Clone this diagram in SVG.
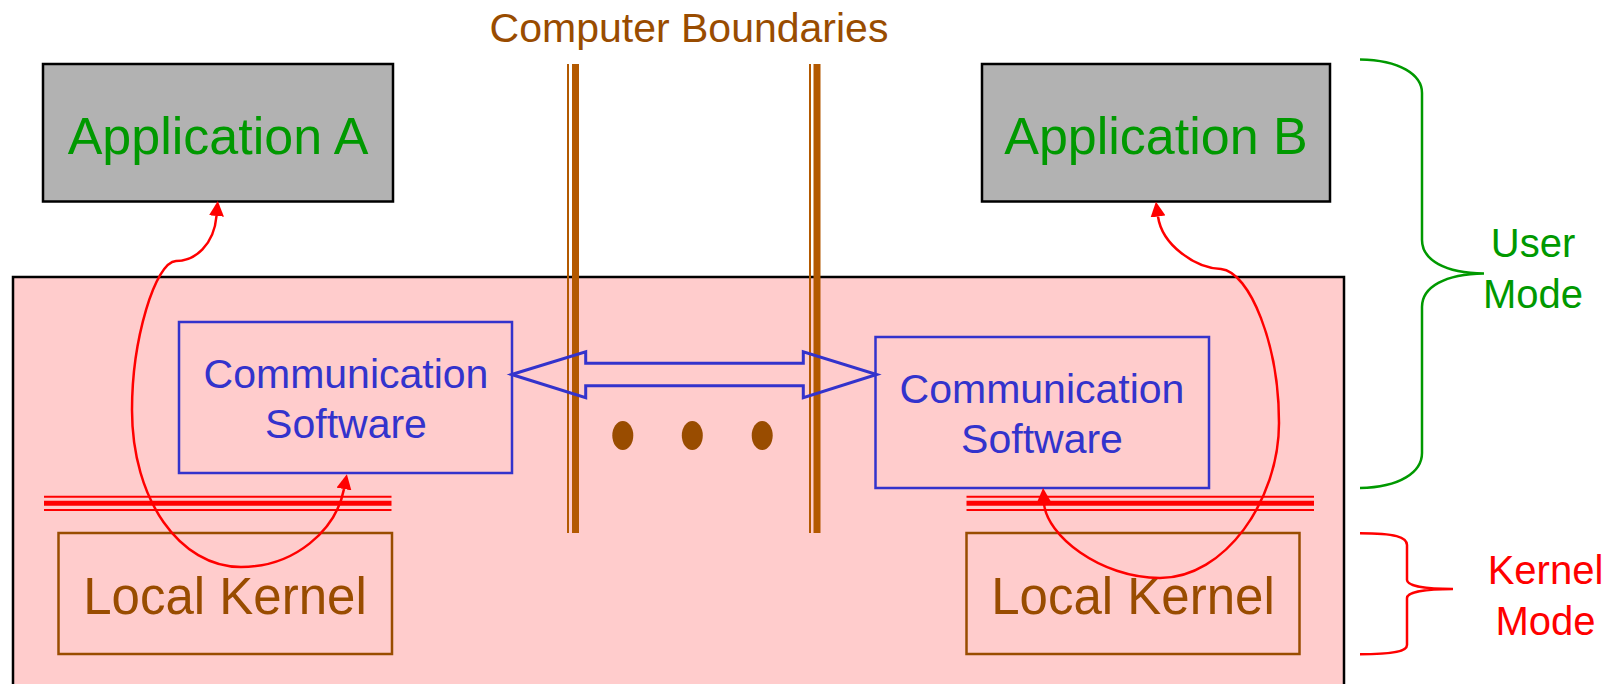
<svg xmlns="http://www.w3.org/2000/svg" width="1618" height="684" viewBox="0 0 1618 684">
  <style>
    text { font-family: "Liberation Sans", Arial, sans-serif; text-anchor: middle; }
    .app { fill: #B2B2B2; stroke: #000; stroke-width: 2.5; }
    .app-label { fill: #009900; font-size: 52px; }
    .comm { fill: none; stroke: #3333CC; stroke-width: 2.5; }
    .comm-label { fill: #3333CC; font-size: 41px; }
    .kernel { fill: none; stroke: #994C00; stroke-width: 2.5; }
    .kernel-label { fill: #994C00; font-size: 51px; }
    .boundary-thin { stroke: #B35900; stroke-width: 2; }
    .boundary-thick { stroke: #B35900; stroke-width: 7; }
    .sep-thin { stroke: #FF0000; stroke-width: 2; }
    .sep-thick { stroke: #FF0000; stroke-width: 5; }
    .flow { fill: none; stroke: #FF0000; stroke-width: 2.5; marker-start: url(#redHead); marker-end: url(#redHead); }
    .dot { fill: #994C00; }
  </style>
  <defs>
    <marker id="redHead" viewBox="0 0 10 10" refX="0" refY="5" markerWidth="15" markerHeight="15" markerUnits="userSpaceOnUse" orient="auto-start-reverse">
      <path d="M0,0 L10,5 L0,10 z" fill="#FF0000"/>
    </marker>
  </defs>

  <rect width="1618" height="684" fill="#FFFFFF"/>

  <!-- shared network / system area -->
  <g id="system-area">
    <rect x="13" y="277" width="1331" height="430" fill="#FFCCCC" stroke="#000" stroke-width="2.5"/>
  </g>

  <!-- computer boundaries -->
  <g id="boundaries">
    <text x="689" y="42" fill="#994C00" font-size="41">Computer Boundaries</text>
    <line class="boundary-thin" x1="568" y1="64" x2="568" y2="533"/>
    <line class="boundary-thick" x1="575.5" y1="64" x2="575.5" y2="533"/>
    <line class="boundary-thin" x1="810" y1="64" x2="810" y2="533"/>
    <line class="boundary-thick" x1="817" y1="64" x2="817" y2="533"/>
  </g>

  <g id="app-a">
    <rect class="app" x="43" y="64" width="350" height="137.5"/>
    <text class="app-label" x="218" y="154">Application A</text>
  </g>

  <g id="app-b">
    <rect class="app" x="982" y="64" width="348" height="137.5"/>
    <text class="app-label" x="1156" y="154">Application B</text>
  </g>

  <g id="comm-a">
    <rect class="comm" x="179" y="322" width="333" height="151"/>
    <text class="comm-label" x="346" y="388">Communication</text>
    <text class="comm-label" x="346" y="438">Software</text>
  </g>

  <g id="comm-b">
    <rect class="comm" x="875.5" y="337" width="333.5" height="151"/>
    <text class="comm-label" x="1042" y="403">Communication</text>
    <text class="comm-label" x="1042" y="453">Software</text>
  </g>

  <!-- user / kernel separators -->
  <g id="separator-a">
    <line class="sep-thin" x1="44" y1="496.7" x2="391.5" y2="496.7"/>
    <line class="sep-thick" x1="44" y1="503.2" x2="391.5" y2="503.2"/>
    <line class="sep-thin" x1="44" y1="510" x2="391.5" y2="510"/>
  </g>
  <g id="separator-b">
    <line class="sep-thin" x1="966.5" y1="496.7" x2="1314" y2="496.7"/>
    <line class="sep-thick" x1="966.5" y1="503.2" x2="1314" y2="503.2"/>
    <line class="sep-thin" x1="966.5" y1="510" x2="1314" y2="510"/>
  </g>

  <g id="kernel-a">
    <rect class="kernel" x="58.5" y="533" width="333.5" height="121"/>
    <text class="kernel-label" x="225" y="614">Local Kernel</text>
  </g>

  <g id="kernel-b">
    <rect class="kernel" x="966.5" y="533" width="333" height="121"/>
    <text class="kernel-label" x="1133" y="614">Local Kernel</text>
  </g>

  <g id="ellipsis">
    <ellipse class="dot" cx="622.8" cy="435.5" rx="10.5" ry="14.5"/>
    <ellipse class="dot" cx="692.3" cy="435.5" rx="10.5" ry="14.5"/>
    <ellipse class="dot" cx="762.2" cy="435.5" rx="10.5" ry="14.5"/>
  </g>

  <g id="connectors">
    <!-- message exchange between the two communication layers -->
    <polygon points="511.7,374.5 585.7,351.7 585.7,363.3 803.3,363.3 803.3,351.7 876.7,374.5 803.3,397.7 803.3,385.7 585.7,385.7 585.7,397.7" fill="none" stroke="#3333CC" stroke-width="3" stroke-linejoin="miter"/>
    <!-- control path through the local kernels -->
    <path class="flow" d="M216.5,216 C214,245 195,261 176,261 C155,262 132,340 132,410 C132,500 180,567 241,567 C295,567 336,530 344,489"/>
    <path class="flow" d="M1158,216.5 C1162,245 1195,268 1221,269 C1250,272 1279,345 1279,423 C1279,500 1225,578 1160,578 C1100,578 1046,535 1044,503"/>
  </g>

  <g id="user-mode">
    <path d="M1360,59.5 C1400,60 1422,75 1422,93 L1422,240 C1422,260 1445,273 1484,273.5 C1445,274 1422,287 1422,307 L1422,453 C1422,472 1400,487.5 1360,488" fill="none" stroke="#009900" stroke-width="2.5"/>
    <text x="1533" y="257" fill="#009900" font-size="40">User</text>
    <text x="1533" y="308" fill="#009900" font-size="40">Mode</text>
  </g>

  <g id="kernel-mode">
    <path d="M1360,533.3 C1395,533.3 1407,537 1407,545 L1407,580 C1407,586 1425,589 1453,589 C1425,589 1407,592 1407,598 L1407,645 C1407,651 1395,654.3 1360,654.3" fill="none" stroke="#FF0000" stroke-width="2.5"/>
    <text x="1545.5" y="583.5" fill="#FF0000" font-size="40">Kernel</text>
    <text x="1545.5" y="635" fill="#FF0000" font-size="40">Mode</text>
  </g>
</svg>
